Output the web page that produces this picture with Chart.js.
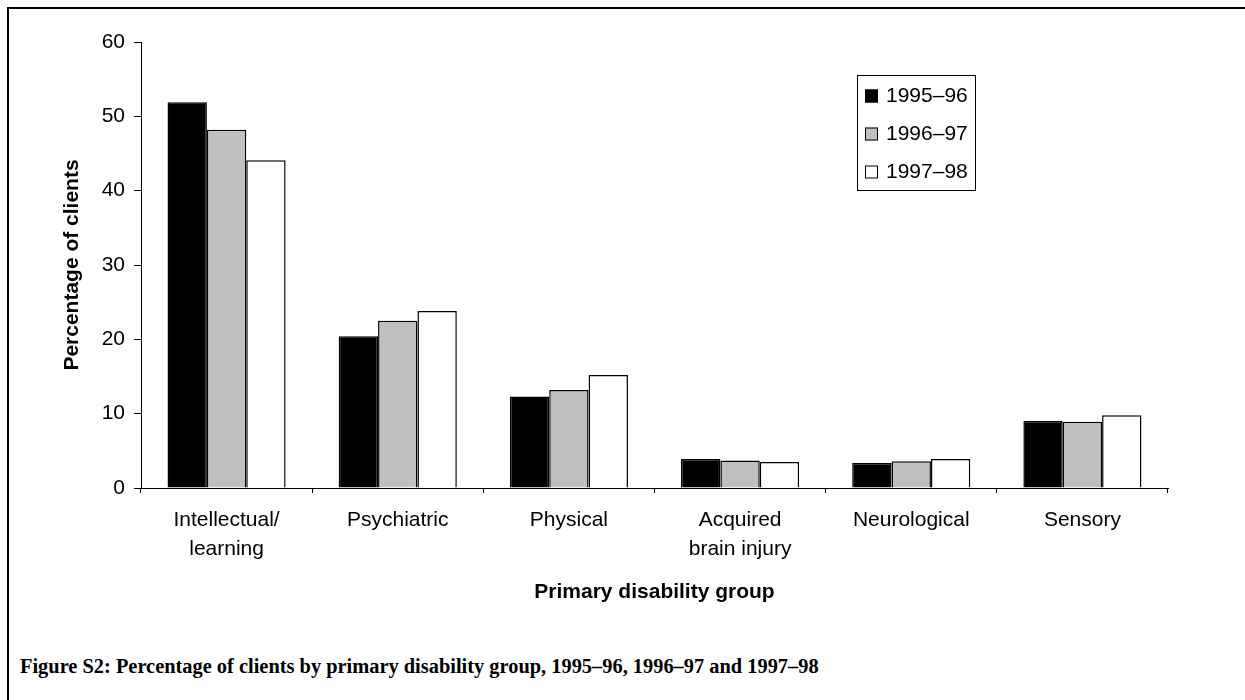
<!DOCTYPE html>
<html>
<head>
<meta charset="utf-8">
<script src="https://cdn.jsdelivr.net/npm/chart.js@4"></script>
<style>
  body { margin: 0; background: #fff; width: 1245px; height: 700px; overflow: hidden; position: relative; }
  #frame { position: absolute; left: 7px; top: 7px; width: 1300px; height: 800px; border-left: 2px solid #000; border-top: 2px solid #000; }
  #c { position: absolute; left: 0; top: 0; }
  #caption { position: absolute; left: 20px; top: 655px; font: bold 20.4px "Liberation Serif", "Times New Roman", serif; color: #000; white-space: nowrap; }
</style>
</head>
<body>
<div id="frame"></div>
<canvas id="c" width="1245" height="620"></canvas>
<div id="caption">Figure S2: Percentage of clients by primary disability group, 1995–96, 1996–97 and 1997–98</div>
<script>
// Data
var groups = [["Intellectual/", "learning"], "Psychiatric", "Physical", ["Acquired", "brain injury"], "Neurological", "Sensory"];
var years = ["1995–96", "1996–97", "1997–98"];
var y9596 = [51.9, 20.4, 12.3, 3.9, 3.35, 9.0];
var y9697 = [48.2, 22.5, 13.2, 3.7, 3.6, 8.9];
var y9798 = [44.1, 23.8, 15.2, 3.5, 3.9, 9.8];
var yTicks = [0, 10, 20, 30, 40, 50, 60];

var fills = ["#000000", "#c0c0c0", "#ffffff"];
var font = "'Liberation Sans', Arial, sans-serif";

// legend drawn as a boxed list, like the original
var boxLegend = {
  id: "boxLegend",
  afterDraw: function (chart) {
    var ctx = chart.ctx;
    ctx.save();
    ctx.strokeStyle = "#000";
    ctx.lineWidth = 1;
    ctx.strokeRect(857.5, 75.5, 118, 115);
    ctx.font = "21px " + font;
    ctx.textBaseline = "middle";
    ctx.fillStyle = "#000";
    chart.data.datasets.forEach(function (ds, i) {
      var cy = 96 + i * 38;
      ctx.fillStyle = ds.backgroundColor;
      ctx.fillRect(865, cy - 6.5, 13, 13);
      ctx.strokeRect(865.5, cy - 6, 12, 12);
      ctx.fillStyle = "#000";
      ctx.fillText(ds.label, 886, cy);
    });
    ctx.restore();
  }
};

var ctx = document.getElementById("c").getContext("2d");
var chart = new Chart(ctx, {
  type: "bar",
  data: {
    labels: groups,
    datasets: [
      { label: years[0], data: y9596, backgroundColor: fills[0], borderColor: "#000", borderWidth: 1.5 },
      { label: years[1], data: y9697, backgroundColor: fills[1], borderColor: "#000", borderWidth: 1.5 },
      { label: years[2], data: y9798, backgroundColor: fills[2], borderColor: "#000", borderWidth: 1.5 }
    ]
  },
  options: {
    responsive: false,
    animation: false,
    devicePixelRatio: 1,
    categoryPercentage: 0.69,
    barPercentage: 1.0,
    layout: { padding: { left: 0, right: 77, top: 42, bottom: 0 } },
    plugins: {
      legend: { display: false },
      tooltip: { enabled: false }
    },
    scales: {
      x: {
        grid: { drawOnChartArea: false, drawTicks: true, tickLength: 5, color: "#000", offset: true },
        border: { display: true, color: "#000", width: 1 },
        ticks: { color: "#000", font: { family: font, size: 21, lineHeight: 1.38 }, padding: 13, maxRotation: 0, autoSkip: false },
        title: { display: true, text: "Primary disability group", color: "#000", font: { family: font, size: 21, weight: "bold" }, padding: { top: 0, bottom: 15 } },
        afterFit: function (scale) { scale.height = 132; }
      },
      y: {
        min: 0,
        max: 60,
        afterBuildTicks: function (scale) { scale.ticks = yTicks.map(function (v) { return { value: v }; }); },
        grid: { drawOnChartArea: false, drawTicks: true, tickLength: 7, color: "#000" },
        border: { display: true, color: "#000", width: 1 },
        ticks: { color: "#000", font: { family: font, size: 21 }, padding: 9 },
        title: { display: true, text: "Percentage of clients", color: "#000", font: { family: font, size: 21, weight: "bold" }, padding: { top: 60, bottom: 0 } },
        afterFit: function (scale) { scale.width = 141; }
      }
    }
  },
  plugins: [boxLegend]
});
</script>
</body>
</html>
